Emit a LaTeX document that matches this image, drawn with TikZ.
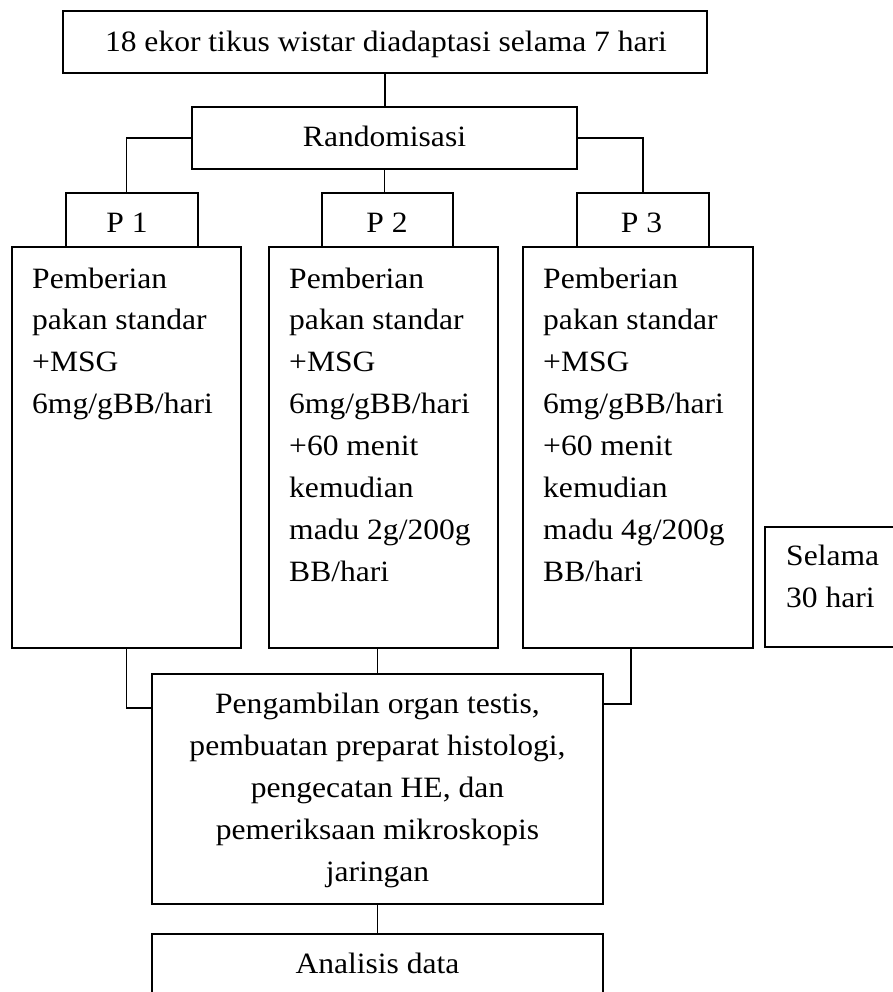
\documentclass[tikz,border=0pt]{standalone}
\usepackage{fontspec}
\setmainfont[FakeStretch=1.07]{Liberation Serif}
\usetikzlibrary{calc}
\begin{document}
\begin{tikzpicture}[x=1pt,y=-1pt,
  box/.style={draw, line width=1.5pt, inner sep=0pt, outer sep=0pt},
  conn/.style={line width=1.2pt},
  lbl/.style={font=\fontsize{29.5}{41.9}\selectfont, inner sep=0pt, anchor=base},
  blk/.style={lbl, anchor=base west, align=left}]
\useasboundingbox (0,0) rectangle (892,992);
% boxes
\node[box, minimum width=644pt, minimum height=62pt] (top) at (385,42) {};
\node[box, minimum width=385pt, minimum height=62pt] (rand) at (384.5,138) {};
\node[box, minimum width=132pt, minimum height=54pt] (p1) at (132,220) {};
\node[box, minimum width=131pt, minimum height=54pt] (p2) at (387.5,220) {};
\node[box, minimum width=132pt, minimum height=54pt] (p3) at (643,220) {};
\node[box, minimum width=229pt, minimum height=401pt] (b1) at (126.5,447.5) {};
\node[box, minimum width=229pt, minimum height=401pt] (b2) at (383.5,447.5) {};
\node[box, minimum width=230pt, minimum height=401pt] (b3) at (638,447.5) {};
\node[box, minimum width=140pt, minimum height=120pt] (sel) at (835,587) {};
\node[box, minimum width=451pt, minimum height=230pt] (peng) at (377.5,789) {};
\node[box, minimum width=451pt, minimum height=80pt] (anal) at (377.5,974) {};
% connectors
\draw[conn] (top.south) -- (top.south |- rand.north);
\draw[conn] (rand.west) -| (b1.north |- p1.north);
\draw[conn] (rand.south) -- (rand.south |- p2.north);
\draw[conn] (rand.east) -| (p3.north);
\draw[conn] (b1.south) |- ($(peng.north west)+(0,34)$);
\draw[conn] (peng.north |- b2.south) -- (peng.north);
\coordinate (b3c) at ($(b3.south)+(-7,0)$);
\draw[conn] (b3c) |- ($(peng.north east)+(0,30)$);
\draw[conn] (peng.south) -- (anal.north);
% texts (multi-line nodes: base = last line's baseline)
\node[lbl] (toptxt) at (386,52) {18 ekor tikus wistar diadaptasi selama 7 hari};
\node[lbl] (randtxt) at (384.5,147) {Randomisasi};
\node[lbl] (p1txt) at (127,233) {P 1};
\node[lbl] (p2txt) at (387,233) {P 2};
\node[lbl] (p3txt) at (641.5,233) {P 3};
\node[blk] (b1txt) at (32,413.7) {Pemberian\\pakan standar\\+MSG\\6mg/gBB/hari};
\node[blk] (b2txt) at (289,581.3) {Pemberian\\pakan standar\\+MSG\\6mg/gBB/hari\\+60 menit\\kemudian\\madu 2g/200g\\BB/hari};
\node[blk] (b3txt) at (543,581.3) {Pemberian\\pakan standar\\+MSG\\6mg/gBB/hari\\+60 menit\\kemudian\\madu 4g/200g\\BB/hari};
\node[blk] (seltxt) at (786,607) {Selama\\30 hari};
\node[lbl, align=center] (pengtxt) at (377.5,881) {Pengambilan organ testis,\\pembuatan preparat histologi,\\pengecatan HE, dan\\pemeriksaan mikroskopis\\jaringan};
\node[lbl] (antxt) at (377.5,973) {Analisis data};
\end{tikzpicture}
\end{document}
